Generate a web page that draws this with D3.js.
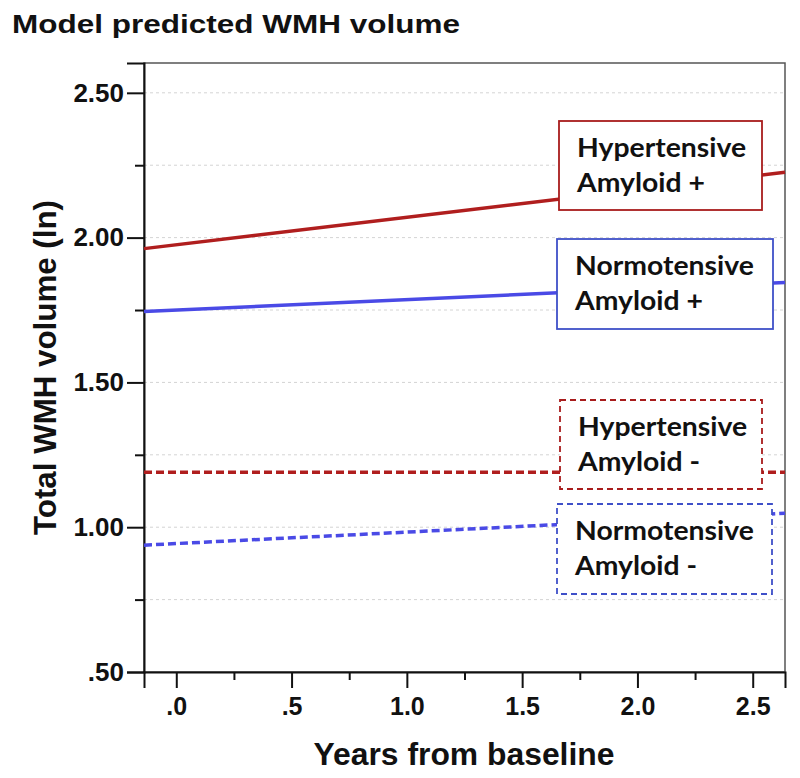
<!DOCTYPE html>
<html><head><meta charset="utf-8">
<script src="https://cdn.jsdelivr.net/npm/d3@7"></script>
<style>body{margin:0;background:#fff}svg{display:block}</style>
</head><body>
<script>
// Data
const xDomain = [-0.14, 2.64];
const yDomain = [0.5, 2.603];
const xTicks = [0, 0.5, 1.0, 1.5, 2.0, 2.5];
const xTickLabels = [".0", ".5", "1.0", "1.5", "2.0", "2.5"];
const yTicks = [0.5, 1.0, 1.5, 2.0, 2.5];
const yTickLabels = [".50", "1.00", "1.50", "2.00", "2.50"];
const seriesNames = ["Hypertensive Amyloid +", "Normotensive Amyloid +", "Hypertensive Amyloid -", "Normotensive Amyloid -"];
const lineYears = [-0.14, 2.64];
const hypAmyPos = [1.962, 2.226];
const normAmyPos = [1.745, 1.845];
const hypAmyNeg = [1.19, 1.19];
const normAmyNeg = [0.938, 1.048];

const W = 800, H = 778;
const m = {l:144, r:15, t:63, b:106};
const svg = d3.select("body").append("svg").attr("width", W).attr("height", H);
const x = d3.scaleLinear().domain(xDomain).range([m.l, W - m.r]);
const y = d3.scaleLinear().domain(yDomain).range([H - m.b, m.t]);

// gridlines every 0.25
const grid = d3.range(0.75, 2.51, 0.25);
svg.append("g").selectAll("line").data(grid).join("line")
  .attr("x1", m.l).attr("x2", W - m.r)
  .attr("y1", d => y(d)).attr("y2", d => y(d))
  .attr("stroke", "#d4d4d4").attr("stroke-width", 1).attr("stroke-dasharray", "3,3");

// frame
svg.append("rect").attr("x", m.l).attr("y", m.t)
  .attr("width", W - m.r - m.l).attr("height", H - m.b - m.t)
  .attr("fill", "none").attr("stroke", "#555").attr("stroke-width", 1.5);

const font = "'Liberation Sans', Arial, sans-serif";

// y axis
const yAx = svg.append("g").attr("transform", `translate(${m.l},0)`)
  .call(d3.axisLeft(y).tickValues(yTicks).tickSize(17).tickPadding(3)
    .tickFormat((d,i) => yTickLabels[i]));
yAx.append("g").call(d3.axisLeft(y).tickValues(d3.range(0.75, 2.5, 0.5)).tickSize(9).tickFormat(""));
yAx.selectAll("path.domain").attr("stroke", "#111").attr("stroke-width", 2);
yAx.selectAll(".tick line").attr("stroke", "#111").attr("stroke-width", 2);
yAx.selectAll("text").attr("font-family", font).attr("font-weight", "bold")
  .attr("font-size", 26).attr("fill", "#111");
yAx.selectAll("g > g > path.domain").remove();

// x axis
const xAx = svg.append("g").attr("transform", `translate(0,${H - m.b})`)
  .call(d3.axisBottom(x).tickValues(xTicks).tickSize(16).tickPadding(9)
    .tickFormat((d,i) => xTickLabels[i]));
xAx.append("g").call(d3.axisBottom(x).tickValues(d3.range(0.25, 2.5, 0.5)).tickSize(8).tickFormat(""));
xAx.selectAll("path.domain").attr("stroke", "#111").attr("stroke-width", 2);
xAx.selectAll(".tick line").attr("stroke", "#111").attr("stroke-width", 2);
xAx.selectAll("text").attr("font-family", font).attr("font-weight", "bold")
  .attr("font-size", 25).attr("fill", "#111");
xAx.selectAll("g > g > path.domain").remove();

// axis titles
svg.append("text").attr("x", 464).attr("y", 765).attr("text-anchor", "middle")
  .attr("font-family", font).attr("font-weight", "bold").attr("font-size", 31)
  .attr("fill", "#111").attr("textLength", 301).attr("lengthAdjust", "spacingAndGlyphs")
  .text("Years from baseline");
svg.append("text").attr("transform", "translate(56,367.5) rotate(-90)").attr("text-anchor", "middle")
  .attr("font-family", font).attr("font-weight", "bold").attr("font-size", 31)
  .attr("fill", "#111").attr("textLength", 335).attr("lengthAdjust", "spacingAndGlyphs")
  .text("Total WMH volume (ln)");

// title
svg.append("text").attr("x", 12).attr("y", 33)
  .attr("font-family", font).attr("font-weight", "bold").attr("font-size", 26)
  .attr("fill", "#111").attr("textLength", 448).attr("lengthAdjust", "spacingAndGlyphs")
  .text("Model predicted WMH volume");

// lines
const red = "#b01e1e", blue = "#4a4ae6";
const series = [
  {vals: hypAmyPos, color: red, dash: null},
  {vals: normAmyPos, color: blue, dash: null},
  {vals: hypAmyNeg, color: red, dash: "8,4"},
  {vals: normAmyNeg, color: blue, dash: "8,4"}
];
const line = d3.line().x(d => x(d[0])).y(d => y(d[1]));
svg.append("g").selectAll("path").data(series).join("path")
  .attr("d", s => line(lineYears.map((yr, i) => [yr, s.vals[i]])))
  .attr("fill", "none").attr("stroke", s => s.color).attr("stroke-width", 3.5)
  .attr("stroke-dasharray", s => s.dash);

// label boxes
const boxes = [
  {name: seriesNames[0], x0: 559, y0: 121, w: 203, h: 89, color: "#a81c1c", dash: null},
  {name: seriesNames[1], x0: 557, y0: 239, w: 216, h: 90, color: "#3f50c8", dash: null},
  {name: seriesNames[2], x0: 560, y0: 400, w: 202, h: 89, color: "#a81c1c", dash: "6,4"},
  {name: seriesNames[3], x0: 557, y0: 504, w: 215, h: 90, color: "#3f50c8", dash: "6,4"}
];
const bg = svg.append("g").selectAll("g").data(boxes).join("g");
bg.append("rect").attr("x", d => d.x0).attr("y", d => d.y0).attr("width", d => d.w).attr("height", d => d.h)
  .attr("fill", "#fff").attr("stroke", d => d.color).attr("stroke-width", 1.8)
  .attr("stroke-dasharray", d => d.dash);
bg.each(function(d) {
  const parts = d.name.split(" ");
  const lines = [parts[0], parts.slice(1).join(" ")];
  lines.forEach((s, i) => {
    const t = d3.select(this).append("text").attr("font-family", "Lato, 'Open Sans', sans-serif")
      .attr("font-weight", "bold").attr("font-size", 26).attr("fill", "#111")
      .attr("x", d.x0 + 18).attr("y", d.y0 + 36 + i * 35).text(s);
    const len = t.node().getComputedTextLength();
    t.attr("textLength", len * 1.09).attr("lengthAdjust", "spacingAndGlyphs");
  });
});
</script>
</body></html>
